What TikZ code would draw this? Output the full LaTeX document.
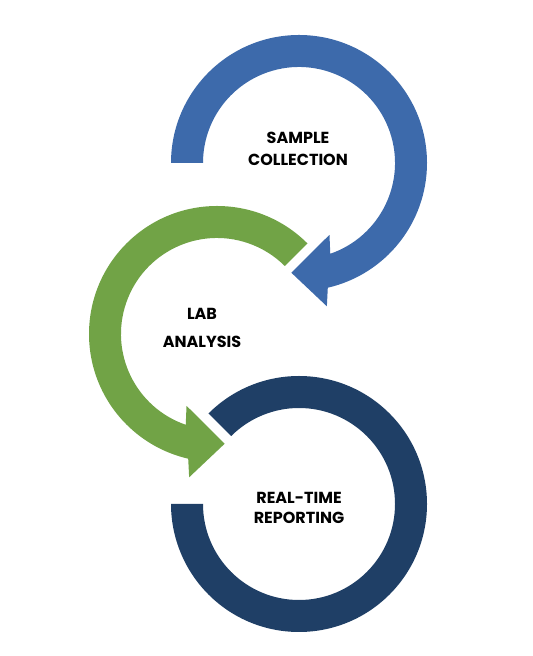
\documentclass[tikz,border=0pt]{standalone}
\usepackage{fontspec}
\setmainfont{Poppins}
\definecolor{sampleblue}{HTML}{3D6AAB}
\definecolor{labgreen}{HTML}{71A346}
\definecolor{reportnavy}{HTML}{1F3F66}

\begin{document}
\begin{tikzpicture}[x=0.75pt,y=0.75pt,
    steplabel/.style={font=\bfseries\fontsize{12}{16.5}\selectfont, align=center, text=black}]
\useasboundingbox (0,0) rectangle (532,656);

\coordinate (bc) at (299,493);
\coordinate (gc) at (217,322);
\coordinate (nc) at (299,152);

% blue ring with its head
\fill[sampleblue] ([shift={(180:128)}]bc) arc[start angle=180,end angle=-77,radius=128]
    -- ([shift={(-79:146)}]bc) -- ([shift={(-94:110)}]bc) -- ([shift={(-67:78)}]bc)
    -- ([shift={(-71:96)}]bc) arc[start angle=-71,end angle=180,radius=96] -- cycle;

% green ring with its head
\fill[labgreen] ([shift={(45:128)}]gc) arc[start angle=45,end angle=257,radius=128]
    -- ([shift={(259:146)}]gc) -- ([shift={(274:110)}]gc) -- ([shift={(247:78)}]gc)
    -- ([shift={(251:96)}]gc) arc[start angle=251,end angle=45,radius=96] -- cycle;

% navy ring, no head
\fill[reportnavy] ([shift={(135:128)}]nc) arc[start angle=135,end angle=-180,radius=128]
    -- ([shift={(-180:96)}]nc) arc[start angle=-180,end angle=135,radius=96] -- cycle;

\node[steplabel] (sample) at (298,507) {SAMPLE\\COLLECTION};
\node[steplabel] (lab) at (202,328) {LAB\\[5pt]ANALYSIS};
\node[steplabel] (report) at (299,148) {REAL-TIME\\[-1pt]REPORTING};
\end{tikzpicture}
\end{document}
